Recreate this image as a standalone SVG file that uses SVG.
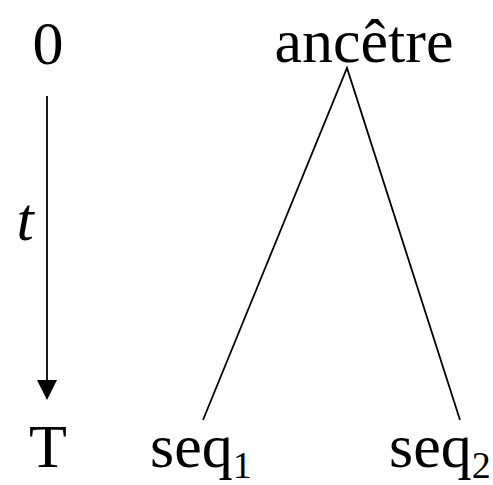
<svg xmlns="http://www.w3.org/2000/svg" width="493" height="485" viewBox="0 0 493 485">
<style>
text{font-family:"Liberation Serif","Times New Roman",serif;font-size:62px;fill:#000}
.sub{font-size:38px}
.ln{stroke:#000;stroke-width:1.8;fill:none}
</style>
<rect width="493" height="485" fill="#fff"/>
<g id="time-axis">
<text x="48" y="64" text-anchor="middle">0</text>
<text x="25" y="240" text-anchor="middle" font-style="italic">t</text>
<text x="48" y="467" text-anchor="middle">T</text>
</g>
<g id="ancetre"><text x="364" y="62" text-anchor="middle">ancêtre</text></g>
<g id="seq1"><text x="150" y="467">seq<tspan class="sub" dy="11">1</tspan></text></g>
<g id="seq2"><text x="389" y="467">seq<tspan class="sub" dy="11">2</tspan></text></g>
<g id="connectors">
<line class="ln" x1="47" y1="96" x2="47" y2="382"/>
<path d="M37,380 L57,380 L47,400 Z" fill="#000"/>
<polyline class="ln" points="203,420 347,68 460,420"/>
</g>
</svg>
